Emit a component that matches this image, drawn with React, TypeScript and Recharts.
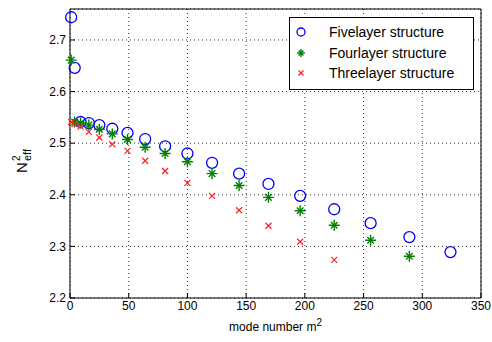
import React from 'react';
import {
  ScatterChart,
  Scatter,
  XAxis,
  YAxis,
  CartesianGrid
} from 'recharts';

// mode number m^2
const modeSquared = [1, 4, 9, 16, 25, 36, 49, 64, 81, 100, 121, 144, 169, 196, 225, 256, 289, 324];

const fiveLayer = [
  2.744, 2.646, 2.541, 2.539, 2.535, 2.528, 2.52, 2.508, 2.494,
  2.48, 2.462, 2.441, 2.421, 2.398, 2.372, 2.345, 2.318, 2.289
];
const fourLayer = [
  2.661, 2.541, 2.539, 2.535, 2.527, 2.518, 2.507, 2.492, 2.48,
  2.464, 2.441, 2.418, 2.395, 2.369, 2.341, 2.312, 2.281
];
const threeLayer = [
  2.541, 2.537, 2.532, 2.522, 2.511, 2.498, 2.485, 2.466, 2.446,
  2.423, 2.398, 2.37, 2.34, 2.309, 2.274
];

const seriesNames = ['Fivelayer structure', 'Fourlayer structure', 'Threelayer structure'];

const xTicks = [0, 50, 100, 150, 200, 250, 300, 350];
const yTicks = [2.2, 2.3, 2.4, 2.5, 2.6, 2.7];

const toPoints = (vals: number[]) => vals.map((y, i) => ({ x: modeSquared[i], y }));

const FONT = '"Liberation Sans", Arial, sans-serif';

const Circle = ({ cx, cy, r = 5.5 }: any) => (
  <circle cx={cx} cy={cy} r={r} fill="none" stroke="#0000ff" strokeWidth={1.3} />
);

const Star = ({ cx, cy, s = 5.5 }: any) => {
  const d = s * 0.6;
  return (
    <g stroke="#008000" strokeWidth={1.4}>
      <line x1={cx - s} y1={cy} x2={cx + s} y2={cy} />
      <line x1={cx} y1={cy - s} x2={cx} y2={cy + s} />
      <line x1={cx - d} y1={cy - d} x2={cx + d} y2={cy + d} />
      <line x1={cx - d} y1={cy + d} x2={cx + d} y2={cy - d} />
    </g>
  );
};

const Cross = ({ cx, cy, s = 3 }: any) => (
  <g stroke="#ff2020" strokeWidth={1.2}>
    <line x1={cx - s} y1={cy - s} x2={cx + s} y2={cy + s} />
    <line x1={cx - s} y1={cy + s} x2={cx + s} y2={cy - s} />
  </g>
);

const LegendBox = () => (
  <svg width={185} height={73} style={{ position: 'absolute', left: 289, top: 17 }}>
    <rect x={0.5} y={0.5} width={184} height={72} fill="#fff" stroke="#000" />
    <Circle cx={12} cy={15} r={4} />
    <Star cx={12} cy={36} s={4} />
    <Cross cx={12} cy={56} s={2.5} />
    {seriesNames.map((name, i) => (
      <text key={name} x={40} y={20 + i * 20.5} fontSize={14} fontFamily={FONT} fill="#000">
        {name}
      </text>
    ))}
  </svg>
);

const XLabel = ({ viewBox }: any) => {
  const cx = viewBox.x + viewBox.width / 2;
  return (
    <text x={cx} y={331} textAnchor="middle" fontSize={12} fontFamily={FONT} fill="#000">
      mode number m<tspan dy={-5} fontSize={10}>2</tspan>
    </text>
  );
};

const tickStyle = { fontSize: 12, fill: '#000', fontFamily: FONT };

export default function App() {
  return (
    <div style={{ position: 'absolute', left: 0, top: 0, width: 492, height: 342, background: '#fff' }}>
      <ScatterChart width={492} height={342} margin={{ top: 8, right: 10, left: 0, bottom: 0 }}>
        <CartesianGrid stroke="#000" strokeDasharray="1 3" strokeWidth={0.8} />
        <XAxis
          type="number"
          dataKey="x"
          domain={[0, 350]}
          ticks={xTicks}
          height={44}
          tick={tickStyle}
          stroke="#000"
          tickSize={-5}
          tickMargin={8}
          label={<XLabel />}
        />
        <XAxis
          xAxisId="top"
          orientation="top"
          type="number"
          domain={[0, 350]}
          ticks={xTicks}
          height={1}
          tick={false}
          stroke="#000"
          tickSize={-5}
        />
        <YAxis
          type="number"
          dataKey="y"
          domain={[2.2, 2.76]}
          ticks={yTicks}
          width={70}
          tick={tickStyle}
          stroke="#000"
          tickSize={-5}
          tickMargin={9}
          allowDataOverflow
        />
        <YAxis
          yAxisId="right"
          orientation="right"
          type="number"
          domain={[2.2, 2.76]}
          ticks={yTicks}
          width={1}
          tick={false}
          stroke="#000"
          tickSize={-5}
        />
        <Scatter name={seriesNames[0]} data={toPoints(fiveLayer)} shape={<Circle />} isAnimationActive={false} />
        <Scatter name={seriesNames[1]} data={toPoints(fourLayer)} shape={<Star />} isAnimationActive={false} />
        <Scatter name={seriesNames[2]} data={toPoints(threeLayer)} shape={<Cross />} isAnimationActive={false} />
      </ScatterChart>
      <svg width={60} height={342} style={{ position: 'absolute', left: 0, top: 0, pointerEvents: 'none' }}>
        <g transform="translate(27,163) rotate(-90)" fontFamily={FONT} fill="#000">
          <text x={-10} y={0} fontSize={15}>N</text>
          <text x={2} y={-7} fontSize={10}>2</text>
          <text x={2} y={4} fontSize={11}>eff</text>
        </g>
      </svg>
      <LegendBox />
    </div>
  );
}
